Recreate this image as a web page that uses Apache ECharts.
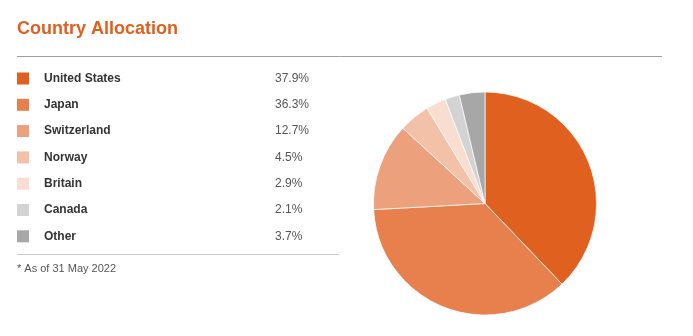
<!DOCTYPE html>
<html><head><meta charset="utf-8">
<script src="https://cdn.jsdelivr.net/npm/echarts@6/dist/echarts.min.js"></script>
<style>html,body{margin:0;padding:0;background:#fff}#c{width:693px;height:336px}</style>
</head><body><div id="c"></div>
<script>
const countries = ['United States','Japan','Switzerland','Norway','Britain','Canada','Other'];
const weights = [37.9, 36.3, 12.7, 4.5, 2.9, 2.1, 3.7];
const colors = ['#E0601F','#E8804E','#EDA07C','#F3C1A8','#F8DDD0','#D3D3D3','#A8A7A8'];
const title = 'Country Allocation';
const footnote = '* As of 31 May 2022';

const chart = echarts.init(document.getElementById('c'), null, {renderer:'canvas'});
const valMap = {};
countries.forEach((c,i)=>valMap[c]=weights[i]);
chart.setOption({
  animation:false,
  color: colors,
  title:{text:title,left:17,top:20,padding:0,textStyle:{fontFamily:'Liberation Sans, Arial',fontSize:18,fontWeight:'bold',color:'#E0601F'}},
  legend:{
    orient:'vertical', left:17, top:72.5, padding:0, itemWidth:12, itemHeight:12, itemGap:14.3,
    icon:'rect', selectedMode:false,
    itemStyle:{borderWidth:0},
    data: countries,
    formatter: n => '{n|' + n + '}{v|' + valMap[n].toFixed(1) + '%}',
    textStyle:{
      padding:[0,0,0,10],
      rich:{
        n:{width:231,fontFamily:'Liberation Sans, Arial',fontSize:12,fontWeight:'bold',color:'#333'},
        v:{fontFamily:'Liberation Sans, Arial',fontSize:12,color:'#555'}
      }
    }
  },
  graphic:[
    {type:'line',shape:{x1:17,y1:56.5,x2:662,y2:56.5},style:{stroke:'#a0a0a0',lineWidth:1}},
    {type:'line',shape:{x1:17,y1:254.5,x2:339,y2:254.5},style:{stroke:'#c8c8c8',lineWidth:1}},
    {type:'text',left:17,top:263,style:{text:footnote,fontFamily:'Liberation Sans, Arial',fontSize:11,fill:'#555'}}
  ],
  series:[{
    type:'pie', center:[485,203.5], radius:[0,111.5], startAngle:90, clockwise:true,
    label:{show:false}, labelLine:{show:false}, silent:true,
    itemStyle:{borderColor:'#fff',borderWidth:0.7},
    data: countries.map((c,i)=>({name:c,value:weights[i]}))
  }]
});
</script></body></html>
